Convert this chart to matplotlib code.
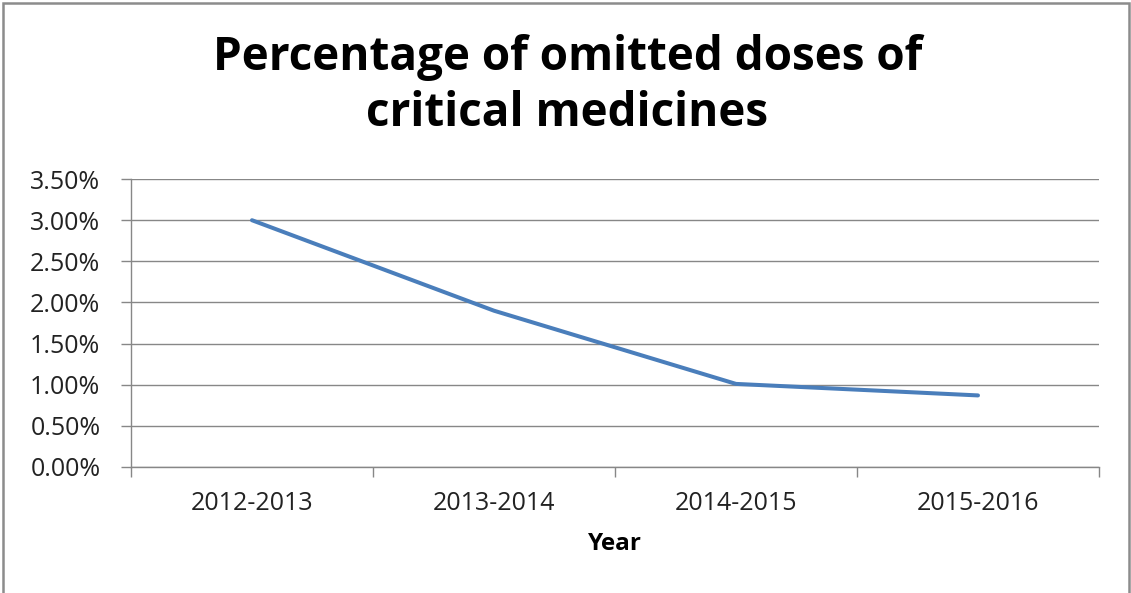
import numpy as np
import matplotlib.pyplot as plt
from matplotlib.patches import Rectangle
from matplotlib.ticker import FuncFormatter, MultipleLocator

# Omitted doses of critical medicines, per financial year
anios = ['2012-2013', '2013-2014', '2014-2015', '2015-2016']
porcentaje_omitidas = [3.00, 1.90, 1.01, 0.87]

plt.rcParams['font.family'] = ['Open Sans', 'DejaVu Sans']

AZUL = '#4A7EBB'
GRIS = '#878787'

fig = plt.figure(figsize=(11.31, 5.93), dpi=100)
ax = fig.add_axes([0.1158, 0.2125, 0.8559, 0.4855])

x = np.arange(len(anios))
ax.plot(x, porcentaje_omitidas, color=AZUL, linewidth=2.9, solid_capstyle='round')

# Eje Y en porcentaje
ax.set_ylim(0, 3.5)
ax.yaxis.set_major_locator(MultipleLocator(0.5))
ax.yaxis.set_major_formatter(FuncFormatter(lambda v, _: f'{v:.2f}%'))
ax.grid(axis='y', color=GRIS, linewidth=1.0)
ax.set_axisbelow(True)

# Eje X categórico: marcas en los límites de cada categoría
ax.set_xlim(-0.5, len(anios) - 0.5)
ax.set_xticks(x)
ax.set_xticklabels(anios)
ax.set_xticks(np.arange(-0.5, len(anios)), minor=True)
ax.tick_params(axis='x', which='major', length=0, pad=17, labelsize=18, labelcolor='#222222')
ax.tick_params(axis='x', which='minor', length=7, width=1, color=GRIS, direction='out')
ax.tick_params(axis='y', length=7, width=1, color=GRIS, pad=15, labelsize=18, labelcolor='#222222')

for lado in ['top', 'right']:
    ax.spines[lado].set_visible(False)
for lado in ['left', 'bottom']:
    ax.spines[lado].set_color(GRIS)
    ax.spines[lado].set_linewidth(1.0)

ax.set_xlabel('Year', fontsize=17.5, fontweight='bold', labelpad=12)

fig.text(0.5015, 0.856, 'Percentage of omitted doses of\ncritical medicines',
         ha='center', va='center', fontsize=33, fontweight='bold',
         linespacing=1.25)

# Marco exterior del gráfico
fig.patches.append(Rectangle((0.003, -0.05), 0.995, 1.045, transform=fig.transFigure,
                             fill=False, edgecolor='#8C8C8C', linewidth=1.8))

fig.savefig('out.png', dpi=100)
